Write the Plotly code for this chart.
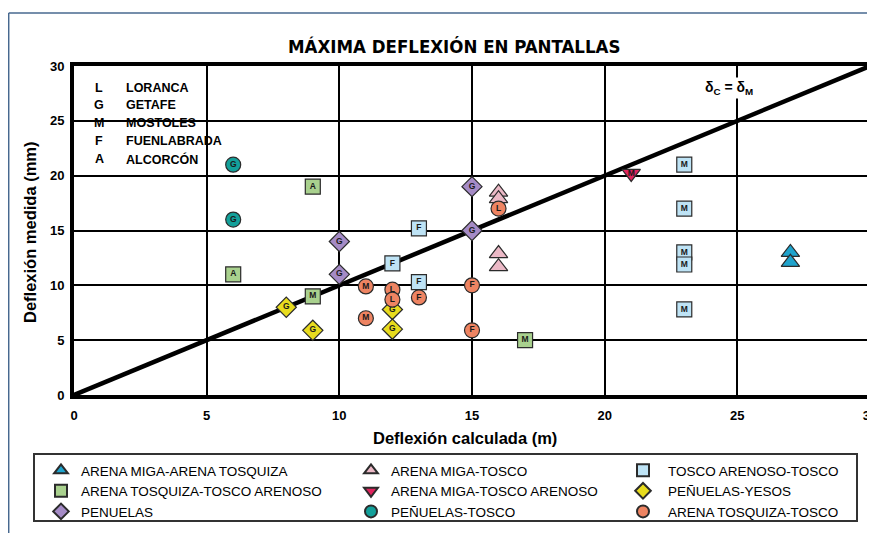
import plotly.graph_objects as go

# ---------------- data ----------------
amat_x = [27, 27]
amat_y = [13.0, 12.1]
amat_t = ["", ""]

atta_x = [9, 6, 9, 17]
atta_y = [19.0, 11.0, 9.0, 5.0]
atta_t = ["A", "A", "M", "M"]

pen_x = [15, 10, 10, 15]
pen_y = [19.0, 14.0, 11.0, 15.0]
pen_t = ["G", "G", "G", "G"]

amt_x = [16, 16, 16, 16]
amt_y = [18.5, 17.9, 12.9, 11.7]
amt_t = ["", "", "", ""]

amta_x = [21]
amta_y = [20.2]
amta_t = ["M"]

pt_x = [6, 6]
pt_y = [21.0, 16.0]
pt_t = ["G", "G"]

tat_x = [13, 12, 13, 23, 23, 23, 23, 23]
tat_y = [15.2, 12.0, 10.3, 21.0, 17.0, 13.0, 11.9, 7.8]
tat_t = ["F", "F", "F", "M", "M", "M", "M", "M"]

py_x = [8, 9, 12, 12]
py_y = [8.0, 5.9, 7.8, 6.0]
py_t = ["G", "G", "G", "G"]

att_x = [11, 11, 12, 12, 13, 15, 15, 16]
att_y = [9.9, 7.0, 9.6, 8.7, 8.9, 10.0, 5.9, 17.0]
att_t = ["M", "M", "L", "L", "F", "F", "F", "L"]

diag = [0, 30]

city_codes = ["L", "G", "M", "F", "A"]
city_names = ["LORANCA", "GETAFE", "MOSTOLES", "FUENLABRADA", "ALCORCÓN"]

ticks = [0, 5, 10, 15, 20, 25, 30]

series = [
    # name, x, y, text, symbol, color, size, legend
    ("ARENA MIGA-ARENA TOSQUIZA", amat_x, amat_y, amat_t, "triangle-up", "#1FA3CC", 16, "legend"),
    ("ARENA TOSQUIZA-TOSCO ARENOSO", atta_x, atta_y, atta_t, "square", "#A9D18E", 15, "legend"),
    ("PENUELAS", pen_x, pen_y, pen_t, "diamond", "#A58BC6", 15.5, "legend"),
    ("ARENA MIGA-TOSCO", amt_x, amt_y, amt_t, "triangle-up", "#EBB9C6", 16, "legend2"),
    ("ARENA MIGA-TOSCO ARENOSO", amta_x, amta_y, amta_t, "triangle-down", "#E0245E", 16, "legend2"),
    ("PEÑUELAS-TOSCO", pt_x, pt_y, pt_t, "circle", "#13A09A", 15, "legend2"),
    ("TOSCO ARENOSO-TOSCO", tat_x, tat_y, tat_t, "square", "#BEE3F5", 15, "legend3"),
    ("PEÑUELAS-YESOS", py_x, py_y, py_t, "diamond", "#E8DC1E", 15.5, "legend3"),
    ("ARENA TOSQUIZA-TOSCO", att_x, att_y, att_t, "circle", "#EE8462", 15, "legend3"),
]

NARROW = "DejaVu Sans Condensed, Liberation Sans Narrow, Arial Narrow, sans-serif"
ARIAL = "Liberation Sans, Arial, sans-serif"

fig = go.Figure()

fig.add_trace(go.Scatter(x=diag, y=diag, mode="lines",
                         line=dict(color="black", width=4.5),
                         showlegend=False, hoverinfo="skip"))

for name, xs, ys, ts, sym, col, sz, lg in series:
    fig.add_trace(go.Scatter(
        x=xs, y=ys, mode="markers", name=name, legend=lg,
        marker=dict(symbol=sym, color=col, size=sz,
                    line=dict(color="#2b2b2b", width=1.2)),
        cliponaxis=False))
    pts = [(a, b, t) for a, b, t in zip(xs, ys, ts) if t]
    if pts:
        fig.add_trace(go.Scatter(
            x=[p[0] for p in pts], y=[p[1] for p in pts], mode="text",
            text=[p[2] for p in pts], showlegend=False,
            textposition="middle center",
            textfont=dict(family=ARIAL, size=8.5, color="#1a1a1a", weight="bold"),
            cliponaxis=False, hoverinfo="skip"))

# screen geometry (px, as photographed); page body adds an 8px offset
OFF = 8
L, R, T, B = 74 - OFF, 870 - OFF, 66 - OFF, 395 - OFF
W, H = 875, 533
PW, PH = R - L, B - T


def px(x):
    return (x - OFF - L) / PW


def py_(y):
    return (B - (y - OFF)) / PH


shapes = []
# white box behind city-code text (covers gridlines)
shapes.append(dict(type="rect", xref="paper", yref="paper",
                   x0=px(84), x1=px(230), y0=py_(173), y1=py_(72),
                   fillcolor="white", line=dict(width=0), layer="between"))
# legend border
shapes.append(dict(type="rect", xref="paper", yref="paper",
                   x0=px(34), x1=px(857), y0=py_(521), y1=py_(454),
                   fillcolor="rgba(0,0,0,0)", line=dict(color="#333333", width=2)))
# outer page frame
shapes.append(dict(type="line", xref="paper", yref="paper",
                   x0=px(8.7), x1=px(880), y0=py_(13), y1=py_(13),
                   line=dict(color="#47688f", width=1.5)))
shapes.append(dict(type="line", xref="paper", yref="paper",
                   x0=px(8.7), x1=px(8.7), y0=py_(13), y1=py_(540),
                   line=dict(color="#47688f", width=1.5)))

annotations = []
rows_y = [88, 105, 123, 141, 159]
for code, nm, ry in zip(city_codes, city_names, rows_y):
    annotations.append(dict(xref="paper", yref="paper", x=px(99), y=py_(ry),
                            text=f"<b>{code}</b>", showarrow=False,
                            xanchor="center", yanchor="middle",
                            font=dict(family=ARIAL, size=12.5, color="black")))
    annotations.append(dict(xref="paper", yref="paper", x=px(124), y=py_(ry),
                            text=f"<b>{nm}</b>", showarrow=False,
                            xanchor="left", yanchor="middle",
                            font=dict(family=ARIAL, size=12.5, color="black")))

annotations.append(dict(xref="paper", yref="paper", x=px(729), y=py_(88),
                        text="<b>δ<sub>C</sub> = δ<sub>M</sub></b>", showarrow=False,
                        xanchor="center", yanchor="middle", bgcolor="white",
                        font=dict(family=ARIAL, size=14, color="black")))
annotations.append(dict(xref="paper", yref="paper", x=px(465), y=py_(438),
                        text="<b>Deflexión calculada (m)</b>", showarrow=False,
                        xanchor="center", yanchor="middle",
                        font=dict(family=ARIAL, size=16.5, color="black")))
annotations.append(dict(xref="paper", yref="paper", x=px(30), y=py_(232),
                        text="<b>Deflexión medida (mm)</b>", showarrow=False,
                        textangle=-90, xanchor="center", yanchor="middle",
                        font=dict(family=ARIAL, size=16.5, color="black")))
annotations.append(dict(xref="paper", yref="paper", x=px(454), y=py_(47),
                        text="<b>MÁXIMA DEFLEXIÓN EN PANTALLAS</b>", showarrow=False,
                        xanchor="center", yanchor="middle",
                        font=dict(family=NARROW, size=18.5, color="black")))

axis_common = dict(range=[0, 30], tickvals=ticks, ticktext=[str(t) for t in ticks],
                   showgrid=True, gridcolor="black", gridwidth=2,
                   zeroline=False, showline=True, linecolor="black", linewidth=4,
                   mirror=True, ticks="", fixedrange=True,
                   tickfont=dict(family=ARIAL, size=13, color="black", weight="bold"))

legend_common = dict(orientation="v", bgcolor="rgba(0,0,0,0)", borderwidth=0,
                     font=dict(family=ARIAL, size=13.5, color="black"),
                     xanchor="left", yanchor="top", itemsizing="constant",
                     tracegroupgap=0)

fig.update_layout(
    width=W, height=H,
    margin=dict(l=L, r=W - R, t=T, b=H - B, autoexpand=False),
    paper_bgcolor="white", plot_bgcolor="white",
    xaxis=dict(**axis_common, ticklabelstandoff=5),
    yaxis=dict(**axis_common, ticklabelstandoff=3),
    shapes=shapes, annotations=annotations,
    legend=dict(**legend_common, x=px(41), y=py_(455)),
    legend2=dict(**legend_common, x=px(351), y=py_(455)),
    legend3=dict(**legend_common, x=px(618), y=py_(455), itemwidth=40),
    showlegend=True,
)

fig.write_html("out.html")
